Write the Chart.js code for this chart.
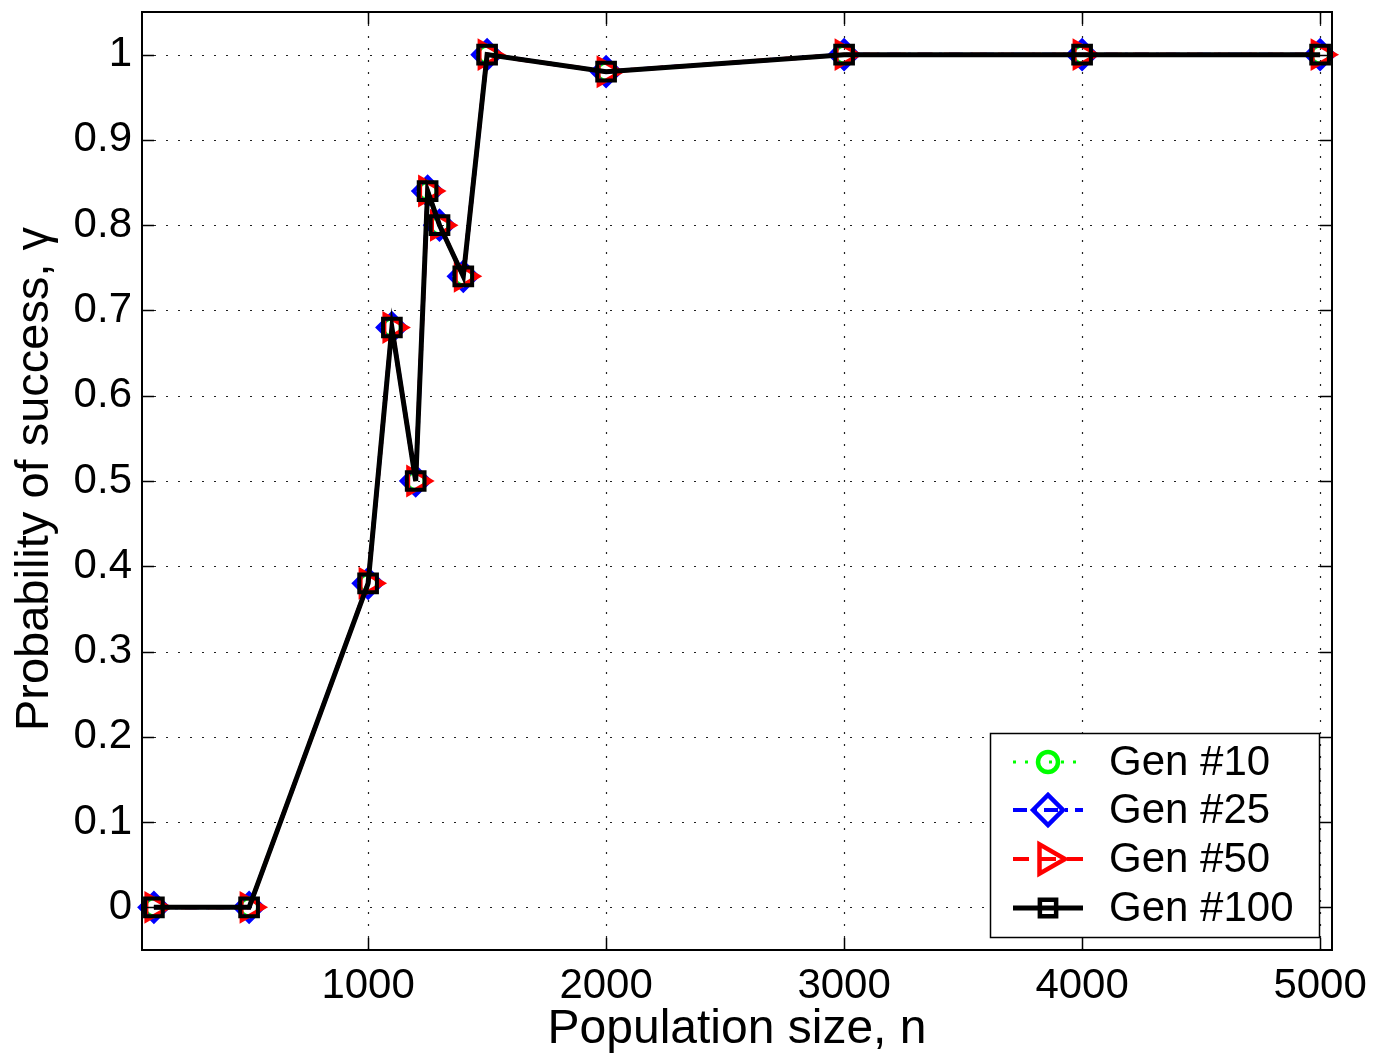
<!DOCTYPE html>
<html>
<head>
<meta charset="utf-8">
<script src="https://cdn.jsdelivr.net/npm/chart.js@4.4.1/dist/chart.umd.min.js"></script>
<style>
  html, body { margin: 0; background: #fff; }
  canvas { display: block; }
</style>
</head>
<body>
<canvas id="chart" width="1373" height="1057"></canvas>
<script>
// population sizes tested
const popSize = [100, 500, 1000, 1100, 1200, 1250, 1300, 1400, 1500, 2000, 3000, 4000, 5000];
// probability of success per generation checkpoint
const gen10 = [0, 0, 0.38, 0.68, 0.50, 0.84, 0.80, 0.74, 1.0, 0.98, 1.0, 1.0, 1.0];
const gen25 = [0, 0, 0.38, 0.68, 0.50, 0.84, 0.80, 0.74, 1.0, 0.98, 1.0, 1.0, 1.0];
const gen50 = [0, 0, 0.38, 0.68, 0.50, 0.84, 0.80, 0.74, 1.0, 0.98, 1.0, 1.0, 1.0];
const gen100 = [0, 0, 0.38, 0.68, 0.50, 0.84, 0.80, 0.74, 1.0, 0.98, 1.0, 1.0, 1.0];

const xTicks = [1000, 2000, 3000, 4000, 5000];
const yTicks = [0, 0.1, 0.2, 0.3, 0.4, 0.5, 0.6, 0.7, 0.8, 0.9, 1];

const FONT = "'Liberation Sans', Arial, sans-serif";

const series = [
  { label: "Gen #10", data: gen10, color: "#00ff00", dash: [3, 9], width: 3, style: "circle", radius: 9, legendRadius: 10, rotation: 0, order: 4 },
  { label: "Gen #25", data: gen25, color: "#0000ff", dash: [14, 7, 3, 7], width: 4, style: "rectRot", radius: 14, legendRadius: 15, rotation: 0, order: 3 },
  { label: "Gen #50", data: gen50, color: "#ff0000", dash: [16, 11], width: 4, style: "triangle", radius: 15, legendRadius: 17, rotation: 90, order: 2 },
  { label: "Gen #100", data: gen100, color: "#000000", dash: [], width: 5, style: "rect", radius: 12.5, legendRadius: 11.5, rotation: 0, order: 1 },
];

function drawMarker(ctx, s, x, y) {
  ctx.save();
  ctx.setLineDash([]);
  ctx.strokeStyle = s.color;
  ctx.fillStyle = "rgba(0,0,0,0)";
  ctx.lineWidth = 4.5;
  Chart.helpers.drawPoint(ctx, { pointStyle: s.style, radius: s.legendRadius, rotation: s.rotation, borderWidth: 4.5 }, x, y);
  ctx.restore();
}

const matlabFrame = {
  id: "matlabFrame",
  beforeDatasetsDraw(chart) {
    const { ctx, chartArea: a, scales } = chart;
    ctx.save();
    ctx.strokeStyle = "#222";
    ctx.lineWidth = 1.2;
    ctx.setLineDash([2, 10]);
    for (const v of xTicks) {
      const px = Math.round(scales.x.getPixelForValue(v)) + 0.5;
      ctx.beginPath();
      ctx.moveTo(px, a.bottom);
      ctx.lineTo(px, a.top);
      ctx.stroke();
    }
    for (const v of yTicks) {
      const py = Math.round(scales.y.getPixelForValue(v)) + 0.5;
      ctx.beginPath();
      ctx.moveTo(a.left, py);
      ctx.lineTo(a.right, py);
      ctx.stroke();
    }
    ctx.restore();
  },
  afterDraw(chart) {
    const { ctx, chartArea: a, scales } = chart;
    ctx.save();
    ctx.strokeStyle = "#000";
    ctx.lineWidth = 1.5;
    ctx.setLineDash([]);
    // inward ticks on all four sides
    const tl = 12;
    ctx.beginPath();
    for (const v of xTicks) {
      const px = Math.round(scales.x.getPixelForValue(v)) + 0.5;
      ctx.moveTo(px, a.bottom); ctx.lineTo(px, a.bottom - tl);
      ctx.moveTo(px, a.top); ctx.lineTo(px, a.top + tl);
    }
    for (const v of yTicks) {
      const py = Math.round(scales.y.getPixelForValue(v)) + 0.5;
      ctx.moveTo(a.left, py); ctx.lineTo(a.left + tl, py);
      ctx.moveTo(a.right, py); ctx.lineTo(a.right - tl, py);
    }
    ctx.stroke();
    ctx.lineWidth = 2;
    ctx.strokeRect(a.left, a.top, a.right - a.left, a.bottom - a.top);

    // axis titles
    ctx.fillStyle = "#000";
    ctx.textAlign = "center";
    ctx.textBaseline = "alphabetic";
    ctx.font = "48px " + FONT;
    ctx.fillText("Population size, n", (a.left + a.right) / 2, 1043);
    ctx.save();
    ctx.font = "47px " + FONT;
    ctx.translate(48, (a.top + a.bottom) / 2 - 2);
    ctx.rotate(-Math.PI / 2);
    ctx.fillText("Probability of success, \u03b3", 0, 0);
    ctx.restore();

    // legend
    const lx = 990, ly = 733, lw = 329, lh = 204;
    ctx.fillStyle = "#fff";
    ctx.fillRect(lx, ly, lw, lh);
    ctx.lineWidth = 1.5;
    ctx.strokeStyle = "#000";
    ctx.strokeRect(lx + 0.5, ly + 0.5, lw, lh);
    const rows = [762, 810, 859, 908];
    series.forEach((s, i) => {
      const y = rows[i];
      ctx.save();
      ctx.strokeStyle = s.color;
      ctx.lineWidth = s.width;
      ctx.setLineDash(s.dash);
      ctx.beginPath();
      ctx.moveTo(1013, y);
      ctx.lineTo(1083, y);
      ctx.stroke();
      ctx.restore();
      drawMarker(ctx, s, 1048, y);
      ctx.fillStyle = "#000";
      ctx.font = "42px " + FONT;
      ctx.textAlign = "left";
      ctx.textBaseline = "middle";
      ctx.fillText(s.label, 1109, y + 1);
    });
    ctx.restore();
  },
};

new Chart(document.getElementById("chart"), {
  type: "line",
  data: {
    datasets: series.map((s) => ({
      label: s.label,
      data: popSize.map((n, i) => ({ x: n, y: s.data[i] })),
      borderColor: s.color,
      borderWidth: s.width,
      borderDash: s.dash,
      pointStyle: s.style,
      pointRadius: s.radius,
      pointRotation: s.rotation,
      pointBorderWidth: 4,
      pointBorderColor: s.color,
      pointBackgroundColor: "rgba(0,0,0,0)",
      tension: 0,
      fill: false,
      clip: false,
      order: s.order,
    })),
  },
  options: {
    responsive: false,
    animation: false,
    devicePixelRatio: 1,
    layout: { autoPadding: false, padding: { top: 12, right: 41, left: 0, bottom: 0 } },
    plugins: {
      legend: { display: false },
      tooltip: { enabled: false },
    },
    scales: {
      x: {
        type: "linear",
        min: 50,
        max: 5050,
        grid: { display: false },
        border: { display: false },
        afterBuildTicks: (s) => { s.ticks = xTicks.map((v) => ({ value: v })); },
        afterFit: (s) => { s.height = 107; s.paddingLeft = 0; s.paddingRight = 0; },
        ticks: {
          color: "#000",
          font: { family: FONT, size: 42 },
          padding: 3,
          maxRotation: 0,
          autoSkip: false,
          callback: (v) => String(v),
        },
      },
      y: {
        type: "linear",
        min: -0.05,
        max: 1.05,
        grid: { display: false },
        border: { display: false },
        afterBuildTicks: (s) => { s.ticks = yTicks.map((v) => ({ value: v })); },
        afterFit: (s) => { s.width = 142; s.paddingTop = 0; s.paddingBottom = 0; },
        ticks: {
          color: "#000",
          font: { family: FONT, size: 42 },
          padding: 2,
          autoSkip: false,
          callback: (v) => String(Math.round(v * 10) / 10),
        },
      },
    },
  },
  plugins: [matlabFrame],
});
</script>
</body>
</html>
